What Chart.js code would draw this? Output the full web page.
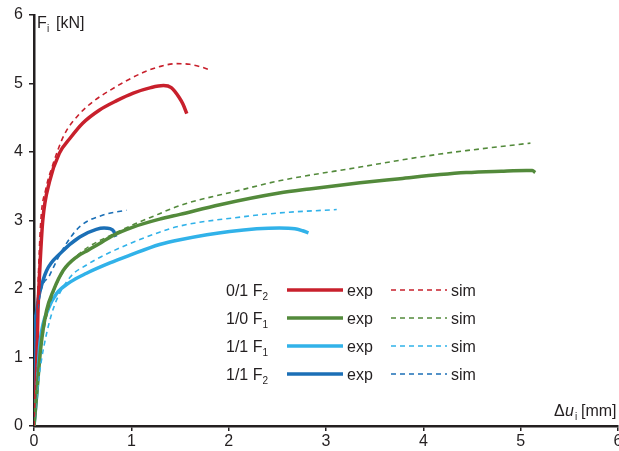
<!DOCTYPE html>
<html>
<head>
<meta charset="utf-8">
<script src="https://cdn.jsdelivr.net/npm/chart.js@4/dist/chart.umd.min.js"></script>
<style>
  html, body { margin: 0; padding: 0; background: #fff; }
  #wrap { width: 619px; height: 451px; }
</style>
</head>
<body>
<div id="wrap"><canvas id="grafico"></canvas></div>
<script>
// Dati: spostamento [mm] e forza [kN]
const redExpX = [0, 0.02, 0.03, 0.04, 0.06, 0.09, 0.16, 0.26, 0.37, 0.5, 0.67, 0.85, 1.02, 1.2, 1.33, 1.41, 1.49, 1.53, 1.57];
const redExpY = [0, 0.6, 1.0, 1.64, 2.3, 3.0, 3.57, 3.98, 4.2, 4.42, 4.61, 4.75, 4.86, 4.94, 4.97, 4.94, 4.8, 4.7, 4.56];
const redSimX = [0, 0.02, 0.04, 0.07, 0.12, 0.19, 0.31, 0.47, 0.62, 0.78, 0.95, 1.12, 1.3, 1.46, 1.6, 1.72, 1.82];
const redSimY = [0, 1.0, 2.0, 3.0, 3.45, 3.8, 4.25, 4.56, 4.75, 4.9, 5.04, 5.16, 5.25, 5.29, 5.28, 5.24, 5.19];

const greenExpX = [0, 0.04, 0.07, 0.13, 0.2, 0.3, 0.44, 0.56, 0.67, 0.81, 1.01, 1.29, 1.5, 1.91, 2.52, 2.83, 3.35, 3.76, 4.17, 4.44, 4.8, 5.06, 5.12, 5.15];
const greenExpY = [0, 0.67, 1.15, 1.69, 1.98, 2.27, 2.47, 2.57, 2.66, 2.78, 2.9, 3.02, 3.09, 3.23, 3.4, 3.46, 3.55, 3.61, 3.67, 3.7, 3.72, 3.73, 3.73, 3.7];
const greenSimX = [0, 0.05, 0.1, 0.2, 0.3, 0.47, 0.81, 1.29, 1.5, 2.11, 2.52, 3.35, 3.76, 4.17, 4.44, 5.1];
const greenSimY = [0, 0.9, 1.4, 1.95, 2.25, 2.52, 2.8, 3.1, 3.22, 3.44, 3.58, 3.78, 3.88, 3.97, 4.02, 4.13];

const lightExpX = [0, 0.03, 0.05, 0.064, 0.15, 0.23, 0.37, 0.54, 0.78, 0.98, 1.29, 1.5, 2.01, 2.52, 2.68, 2.76, 2.82];
const lightExpY = [0, 0.5, 1.0, 1.25, 1.72, 1.93, 2.1, 2.23, 2.38, 2.49, 2.65, 2.72, 2.84, 2.89, 2.88, 2.85, 2.82];
const lightSimX = [0, 0.05, 0.1, 0.2, 0.37, 0.54, 0.73, 1.29, 1.5, 2.18, 2.52, 3.11];
const lightSimY = [0, 0.7, 1.15, 1.72, 2.17, 2.35, 2.5, 2.83, 2.92, 3.06, 3.11, 3.16];

const darkExpX = [0, 0.003, 0.006, 0.02, 0.04, 0.064, 0.13, 0.27, 0.47, 0.64, 0.72, 0.78, 0.82, 0.84];
const darkExpY = [0, 0.8, 1.4, 1.62, 1.82, 1.98, 2.27, 2.52, 2.76, 2.87, 2.89, 2.88, 2.84, 2.76];
const darkSimX = [0, 0.01, 0.05, 0.16, 0.3, 0.47, 0.71, 0.95];
const darkSimY = [0, 1.0, 1.8, 2.2, 2.59, 2.91, 3.08, 3.15];

// Legenda
const legendNames = ['0/1', '1/0', '1/1', '1/1'];
const legendSubs = ['2', '1', '1', '2'];
const colori = ['#c8202c', '#538a3b', '#31b2e9', '#1b6fb6'];

const FONT = "'Liberation Sans', Arial, sans-serif";
const INK = '#231f20';

function punti(xs, ys) {
    return xs.map((x, i) => ({ x: x, y: ys[i] }));
}

function serie(xs, ys, col, tratteggio) {
    return {
        data: punti(xs, ys),
        borderColor: col,
        backgroundColor: col,
        borderWidth: tratteggio ? 1.6 : 3.5,
        borderDash: tratteggio ? [5, 4] : [],
        showLine: true,
        pointRadius: 0,
        cubicInterpolationMode: 'monotone',
        fill: false
    };
}

// Testi extra: titoli assi e legenda disegnati sul canvas
const testiPlugin = {
    id: 'testi',
    afterDraw(chart) {
        const ctx = chart.ctx;
        ctx.save();
        ctx.fillStyle = INK;
        ctx.textBaseline = 'alphabetic';

        // F_i [kN]
        ctx.font = '16px ' + FONT;
        ctx.textAlign = 'left';
        ctx.fillText('F', 37, 28);
        ctx.font = '10px ' + FONT;
        ctx.fillText('i', 47, 32);
        ctx.font = '16px ' + FONT;
        ctx.fillText('[kN]', 56, 28);

        // Δu_i [mm]
        ctx.fillText('\u0394', 554, 416);
        ctx.font = 'italic 16px ' + FONT;
        ctx.fillText('u', 565, 416);
        ctx.font = '10px ' + FONT;
        ctx.fillText('i', 575, 420);
        ctx.font = '16px ' + FONT;
        ctx.fillText('[mm]', 581, 416);

        // legenda
        const righe = [290, 318, 346, 374];
        righe.forEach((yy, i) => {
            ctx.fillStyle = INK;
            ctx.font = '16px ' + FONT;
            ctx.textAlign = 'left';
            const base = yy + 6;
            ctx.fillText(legendNames[i] + ' F', 226, base);
            const w = ctx.measureText(legendNames[i] + ' F').width;
            ctx.font = '10px ' + FONT;
            ctx.fillText(legendSubs[i], 226 + w, base + 4);

            ctx.strokeStyle = colori[i];
            ctx.lineWidth = 3.5;
            ctx.setLineDash([]);
            ctx.beginPath();
            ctx.moveTo(287, yy);
            ctx.lineTo(343, yy);
            ctx.stroke();

            ctx.font = '16px ' + FONT;
            ctx.fillText('exp', 347, base);

            ctx.lineWidth = 1.6;
            ctx.setLineDash([5, 4]);
            ctx.beginPath();
            ctx.moveTo(391, yy);
            ctx.lineTo(447, yy);
            ctx.stroke();
            ctx.setLineDash([]);

            ctx.fillText('sim', 451, base);
        });
        ctx.restore();
    }
};

const ctx = document.getElementById('grafico').getContext('2d');

new Chart(ctx, {
    type: 'scatter',
    data: {
        datasets: [
            serie(redSimX, redSimY, colori[0], true),
            serie(greenSimX, greenSimY, colori[1], true),
            serie(lightSimX, lightSimY, colori[2], true),
            serie(darkSimX, darkSimY, colori[3], true),
            serie(greenExpX, greenExpY, colori[1], false),
            serie(lightExpX, lightExpY, colori[2], false),
            serie(redExpX, redExpY, colori[0], false),
            serie(darkExpX, darkExpY, colori[3], false)
        ]
    },
    options: {
        responsive: true,
        maintainAspectRatio: false,
        animation: false,
        events: [],
        layout: { padding: { top: 15, right: 1, left: 0, bottom: 0 } },
        plugins: {
            legend: { display: false },
            tooltip: { enabled: false }
        },
        scales: {
            x: {
                type: 'linear',
                min: 0,
                max: 6,
                ticks: {
                    stepSize: 1,
                    color: INK,
                    font: { family: FONT, size: 16 },
                    padding: 1,
                    maxRotation: 0
                },
                grid: { drawOnChartArea: false, drawTicks: true, tickLength: 5, color: INK, lineWidth: 1.5 },
                border: { color: INK, width: 2.5 },
                afterFit(scale) {
                    scale.height = 25;
                    scale.paddingLeft = 0;
                    scale.paddingRight = 0;
                }
            },
            y: {
                type: 'linear',
                min: 0,
                max: 6,
                ticks: {
                    stepSize: 1,
                    color: INK,
                    font: { family: FONT, size: 16 },
                    padding: 6
                },
                grid: { drawOnChartArea: false, drawTicks: true, tickLength: 5, color: INK, lineWidth: 1.5 },
                border: { color: INK, width: 2.5 },
                afterFit(scale) {
                    scale.width = 34;
                    scale.paddingTop = 0;
                    scale.paddingBottom = 0;
                }
            }
        }
    },
    plugins: [testiPlugin]
});
</script>
</body>
</html>
